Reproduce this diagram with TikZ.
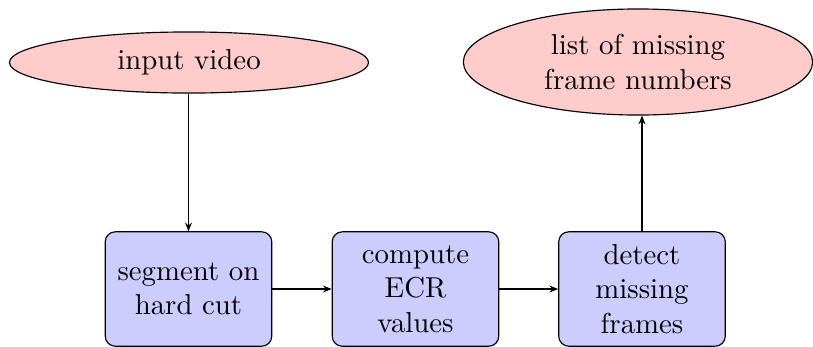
\documentclass[tikz,border=0pt]{standalone}
\usetikzlibrary{shapes.geometric,arrows.meta}
\begin{document}
\begin{tikzpicture}[x=0.347pt,y=-0.347pt,
  ell/.style={ellipse,draw=black,fill=red!20,inner sep=0pt,align=center,font=\fontsize{10}{12}\selectfont},
  proc/.style={rectangle,rounded corners=3.5pt,draw=black,fill=blue!20,inner sep=0pt,
    minimum width=57.8pt,minimum height=39.7pt,align=center,font=\fontsize{10}{12}\selectfont},
  arr/.style={-{Stealth[length=3pt,width=2.4pt]},line width=0.4pt}]
\useasboundingbox (0,0) rectangle (813,347);
\node[ell,minimum width=124.6pt,minimum height=21.2pt] (e1) at (189,62.5) {input video};
\node[ell,minimum width=121.2pt,minimum height=36.8pt] (e2) at (638,62) {list of missing\\frame numbers};
\node[proc] (b1) at (188.5,289) {segment on\\hard cut};
\node[proc] (b2) at (415.5,289) {compute\\ECR\\values};
\node[proc] (b3) at (642,289) {detect\\missing\\frames};
\draw[arr] (e1.south -| b1.north) -- (b1.north);
\draw[arr] (b1.east) -- (b2.west);
\draw[arr] (b2.east) -- (b3.west);
\draw[arr] (b3.north) -- (b3.north |- e2.south);
\end{tikzpicture}
\end{document}
